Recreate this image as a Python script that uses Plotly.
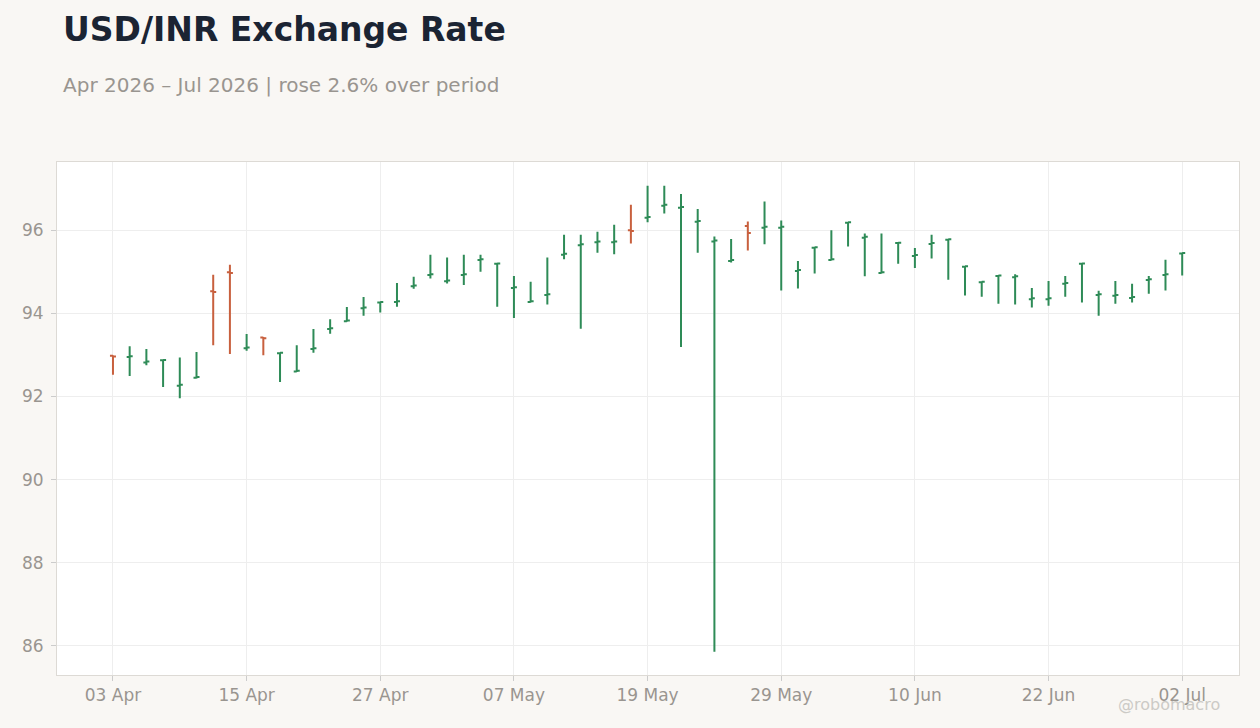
import pandas as pd
import plotly.graph_objects as go

# ── Data (daily USD/INR, trading days only) ─────────────────────────────────
dates = pd.bdate_range("2026-04-03", "2026-07-02")
x_labels = [d.strftime("%Y-%m-%d") for d in dates]

opens = [92.98, 92.95, 92.82, 92.87, 92.26, 92.45, 94.53, 94.99, 93.16, 93.42,
         93.04, 92.60, 93.14, 93.62, 93.81, 94.12, 94.26, 94.27, 94.65, 94.92,
         94.77, 94.92, 95.28, 95.19, 94.61, 94.27, 94.44, 95.41, 95.64, 95.71,
         95.71, 96.00, 96.30, 96.59, 96.54, 96.20, 95.73, 95.26, 96.10, 96.06,
         96.06, 95.02, 95.58, 95.28, 96.18, 95.82, 94.97, 95.69, 95.38, 95.67,
         95.77, 95.12, 94.75, 94.90, 94.87, 94.34, 94.34, 94.71, 95.19, 94.44,
         94.42, 94.37, 94.80, 94.92, 95.44]
highs = [92.99, 93.21, 93.14, 92.89, 92.94, 93.07, 94.93, 95.17, 93.50, 93.43,
         93.06, 93.23, 93.62, 93.86, 94.15, 94.39, 94.28, 94.73, 94.88, 95.41,
         95.34, 95.41, 95.41, 95.21, 94.90, 94.76, 95.34, 95.89, 95.89, 95.96,
         96.13, 96.61, 97.07, 97.07, 96.87, 96.51, 95.85, 95.79, 96.21, 96.69,
         96.23, 95.26, 95.60, 96.00, 96.20, 95.92, 95.92, 95.71, 95.57, 95.89,
         95.79, 95.14, 94.77, 94.92, 94.94, 94.61, 94.78, 94.90, 95.21, 94.54,
         94.78, 94.71, 94.90, 95.29, 95.46]
lows = [92.52, 92.49, 92.75, 92.23, 91.96, 92.43, 93.23, 93.02, 93.10, 92.99,
        92.35, 92.59, 93.05, 93.51, 93.80, 93.94, 94.02, 94.16, 94.59, 94.84,
        94.72, 94.68, 95.00, 94.16, 93.89, 94.26, 94.21, 95.30, 93.63, 95.46,
        95.42, 95.68, 96.19, 96.40, 93.19, 95.46, 85.86, 95.22, 95.51, 95.66,
        94.55, 94.60, 94.96, 95.27, 95.61, 94.89, 94.96, 95.19, 95.09, 95.32,
        94.81, 94.43, 94.40, 94.23, 94.21, 94.14, 94.18, 94.40, 94.26, 93.94,
        94.23, 94.26, 94.47, 94.55, 94.91]
closes = [92.96, 92.97, 92.84, 92.88, 92.28, 92.47, 94.51, 94.97, 93.18, 93.40,
          93.05, 92.62, 93.16, 93.64, 93.83, 94.14, 94.27, 94.29, 94.67, 94.94,
          94.79, 94.94, 95.30, 95.20, 94.63, 94.29, 94.46, 95.43, 95.66, 95.73,
          95.73, 95.98, 96.32, 96.61, 96.56, 96.22, 95.75, 95.28, 95.93, 96.08,
          96.08, 95.04, 95.59, 95.30, 96.19, 95.84, 94.99, 95.70, 95.40, 95.69,
          95.78, 95.13, 94.76, 94.91, 94.89, 94.36, 94.36, 94.73, 95.20, 94.46,
          94.44, 94.39, 94.82, 94.94, 95.45]

tick_every = 8
tick_vals = x_labels[::tick_every]
tick_text = [d.strftime("%d %b") for d in dates[::tick_every]]

UP = "#2E8B57"
DOWN = "#C8603E"
GRID = "#EEEEEE"
MUTED = "#999590"

fig = go.Figure()
fig.add_trace(go.Ohlc(
    x=x_labels,
    open=opens, high=highs, low=lows, close=closes,
    increasing=dict(line=dict(color=UP, width=2)),
    decreasing=dict(line=dict(color=DOWN, width=2)),
    tickwidth=0.18,
    showlegend=False,
))

fig.add_annotation(
    text="<b>USD/INR Exchange Rate</b>",
    xref="paper", yref="paper", x=0.003, y=1.258,
    xanchor="left", yanchor="middle", showarrow=False,
    font=dict(size=33, color="#1B2433"),
)
fig.add_annotation(
    text="Apr 2026 – Jul 2026 | rose 2.6% over period",
    xref="paper", yref="paper", x=0.003, y=1.15,
    xanchor="left", yanchor="middle", showarrow=False,
    font=dict(size=20, color=MUTED),
)
# watermark sits on top of the last tick label, as in the source
fig.add_annotation(
    text="@robomacro",
    xref="paper", yref="paper", x=0.941, y=-0.057,
    xanchor="center", yanchor="middle", showarrow=False,
    font=dict(size=16, color="#CCCAC6"),
)

fig.update_layout(
    width=1260, height=728,
    paper_bgcolor="#F9F7F4",
    plot_bgcolor="#FFFFFF",
    font=dict(family="DejaVu Sans", color=MUTED, size=17),
    margin=dict(l=57, r=21, t=162, b=53),
    xaxis=dict(
        type="category",
        range=[-3.35, 67.4],
        tickmode="array", tickvals=tick_vals, ticktext=tick_text,
        showgrid=True, gridcolor=GRID,
        ticks="outside", ticklen=5, tickcolor="#CCCCCC",
        showline=True, linecolor="#DDDAD5", mirror=True,
        rangeslider=dict(visible=False),
        tickfont=dict(size=17, color=MUTED),
    ),
    yaxis=dict(
        range=[85.3, 97.64],
        dtick=2,
        showgrid=True, gridcolor=GRID, zeroline=False,
        ticks="outside", ticklen=5, tickcolor="#CCCCCC",
        showline=True, linecolor="#DDDAD5", mirror=True,
        ticklabelstandoff=4,
        tickfont=dict(size=17, color=MUTED),
    ),
)

fig.write_html(
    "out.html",
    config={"displayModeBar": False},
    post_script="document.body.style.margin='0';document.body.style.overflow='hidden';",
)
